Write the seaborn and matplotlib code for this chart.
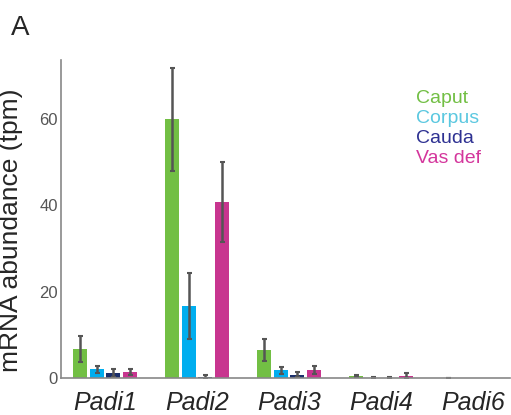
import seaborn as sns
import matplotlib.pyplot as plt
import pandas as pd
import numpy as np

genes = ["Padi1", "Padi2", "Padi3", "Padi4", "Padi6"]
regions = ["Caput", "Corpus", "Cauda", "Vas def"]

# mean tpm per region, one value per gene
caput = [6.8, 59.9, 6.5, 0.45, 0.05]
corpus = [2.0, 16.7, 1.85, 0.05, 0.0]
cauda = [1.1, 0.3, 0.8, 0.05, 0.0]
vas_def = [1.3, 40.7, 1.9, 0.5, 0.0]

# error (+/-)
caput_err = [3.0, 12.0, 2.6, 0.2, 0.05]
corpus_err = [0.9, 7.6, 0.8, 0.1, 0.0]
cauda_err = [0.9, 0.3, 0.6, 0.3, 0.0]
vas_def_err = [0.7, 9.3, 1.0, 0.6, 0.0]

bar_colors = {"Caput": "#72bf44", "Corpus": "#00aeef", "Cauda": "#1b2f6b", "Vas def": "#c8358f"}
text_colors = ["#72bf44", "#5bc8e0", "#2e3192", "#d4369c"]

df = pd.DataFrame({
    "gene": genes * 4,
    "region": np.repeat(regions, len(genes)),
    "tpm": caput + corpus + cauda + vas_def,
    "err": caput_err + corpus_err + cauda_err + vas_def_err,
})

sns.set_style("white")
plt.rcParams['font.family'] = ['Liberation Sans', 'DejaVu Sans']

fig = plt.figure(figsize=(5.11, 4.15), dpi=100)
ax = fig.add_axes([0.119, 0.089, 0.879, 0.766])

sns.barplot(data=df, x="gene", y="tpm", hue="region", order=genes, hue_order=regions,
            palette=bar_colors, saturation=1, width=0.72, gap=0.15, errorbar=None,
            linewidth=0, ax=ax)

# error bars on top of each bar (patches come hue by hue)
for p, (_, row) in zip(ax.patches, df.iterrows()):
    if row["err"] <= 0:
        continue
    xc = p.get_x() + p.get_width() / 2
    ax.errorbar(xc, row["tpm"], yerr=row["err"], fmt="none", ecolor="#555555",
                elinewidth=1.8, capsize=1.8, capthick=1.5)

leg = ax.legend(loc="upper left", bbox_to_anchor=(0.752, 0.962), frameon=False,
                handlelength=0, handletextpad=0, fontsize=14, labelspacing=0.12,
                labelcolor=text_colors)
for h in leg.legend_handles:
    h.set_visible(False)

ax.set_xlim(-0.48, 4.4)
ax.set_ylim(0, 73.6)
ax.set_yticks([0, 20, 40, 60])
ax.tick_params(axis="y", colors="#555555", labelsize=12, length=0, pad=2)
ax.tick_params(axis="x", labelsize=18, length=0, pad=9)
for t in ax.get_xticklabels():
    t.set_fontstyle("italic")
ax.set_xlabel("")
ax.set_ylabel("mRNA abundance (tpm)", fontsize=19)
ax.yaxis.set_label_coords(-0.085, 0.465)
sns.despine(ax=ax)
for s in ["left", "bottom"]:
    ax.spines[s].set_color("#888888")
    ax.spines[s].set_linewidth(1.2)

fig.text(0.022, 0.915, "A", fontsize=20)

fig.savefig("out.png", dpi=100)
